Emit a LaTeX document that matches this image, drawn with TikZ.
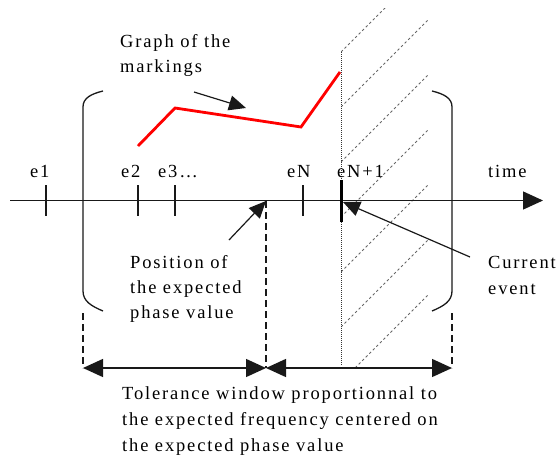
\documentclass[tikz,border=0pt]{standalone}
\usepackage{fontspec}
\setmainfont{Liberation Serif}[LetterSpace=10]
\usetikzlibrary{arrows.meta}
\begin{document}
\begin{tikzpicture}[x=1pt,y=-1pt,
  font=\fontsize{18.5}{25}\selectfont,
  lbl/.style={anchor=base west,inner sep=0pt,text=black},
  ln/.style={line width=1.4pt,draw=black!90},
  tickmark/.style={line width=1.2pt,draw=black!90},
  bigtip/.style={-{Triangle[length=20pt,width=18pt]}},
  midtip/.style={-{Triangle[length=17pt,width=15pt]}},
  dimtip/.style={{Triangle[length=20pt,width=18pt]}-{Triangle[length=20pt,width=18pt]}},
  hatch/.style={draw=black!60,line width=0.9pt,dash pattern=on 2.5pt off 2.5pt},
  dashv/.style={draw=black!90,line width=1.1pt,dash pattern=on 7pt off 4pt},
  redgraph/.style={draw=red,line width=2.8pt,line join=miter}]
\useasboundingbox (0,0) rectangle (557,455);
% hatching
\begin{scope}
  \clip (341,8) rectangle (430,366);
  \foreach \y in {52,107,162,217,272,327,382}{
    \draw[hatch] (341,\y) -- ++(87,-87);
  }
\end{scope}
% dotted vertical
\coordinate (dtop) at (341,52);
\coordinate (dbot) at (341,366);
\draw[draw=black!80,line width=1pt,dash pattern=on 1pt off 1pt] (dtop) -- (dbot);
% axis
\coordinate (axL) at (10,200.5);
\coordinate (axR) at (543,200.5);
\draw[ln,bigtip] (axL) -- (axR);
% ticks
\foreach \n/\x in {t1/46,t2/138,t3/175,tN/303}{
  \draw[tickmark] (\x,185) coordinate (\n) -- (\x,216);
}
\coordinate (tN1a) at (341,180);
\coordinate (tN1b) at (341,222);
\draw[line width=3pt,draw=black] (tN1a) -- (tN1b);
% labels on the axis
\node[lbl] (e1) at (30,177) {e1};
\node[lbl] (e2) at (121,177) {e2};
\node[lbl] (e3) at (158,177) {e3\dots};
\node[lbl] (eN) at (287,177) {eN};
\node[lbl] (eN1) at (337,177) {eN+1};
\node[lbl] (time) at (488,177) {time};
% brackets
\draw[ln,line width=1.3pt] (103,91) .. controls (91,94) and (83,98) .. (83,107) -- (83,291) .. controls (83,301) and (91,306) .. (103,311);
\draw[ln,line width=1.3pt] (432,91) .. controls (444,94) and (452,98) .. (452,107) -- (452,291) .. controls (452,301) and (444,306) .. (432,311);
\coordinate (lb) at (83,313);
\coordinate (rb) at (452,313);
\coordinate (ld) at (83,368);
\coordinate (md) at (266,368);
\coordinate (rd) at (452,368);
\coordinate (mt) at (266,201);
\draw[dashv] (lb) -- (ld);
\draw[dashv] (rb) -- (rd);
\draw[dashv] (mt) -- (md);
% dimension arrows
\draw[ln,dimtip] (ld) -- (md);
\draw[ln,dimtip] (md) -- (rd);
% red graph
\coordinate (r1) at (138,146);
\coordinate (r2) at (175,108);
\coordinate (r3) at (301,127);
\coordinate (r4) at (340,72);
\draw[redgraph] (r1) -- (r2) -- (r3) -- (r4);
% texts
\node[lbl] (g1) at (120,47) {Graph of the};
\node[lbl] (g2) at (120,72) {markings};
\node[lbl] (p1) at (130,268) {Position of};
\node[lbl] (p2) at (130,293) {the expected};
\node[lbl] (p3) at (130,318) {phase value};
\node[lbl] (c1) at (488,268) {Current};
\node[lbl] (c2) at (488,294) {event};
\node[lbl] (b1) at (122,399) {Tolerance window proportionnal to};
\node[lbl] (b2) at (122,425) {the expected frequency centered on};
\node[lbl] (b3) at (122,451) {the expected phase value};
% pointer arrows
\coordinate (ga) at (194,92);
\coordinate (gb) at (246,108);
\draw[ln,line width=1.2pt,midtip] (ga) -- (gb);
\coordinate (pa) at (229,240);
\draw[ln,line width=1.2pt,midtip] (pa) -- (mt);
\coordinate (ca) at (470,257);
\coordinate (cb) at (343,202);
\draw[ln,line width=1.2pt,midtip] (ca) -- (cb);
\end{tikzpicture}
\end{document}
